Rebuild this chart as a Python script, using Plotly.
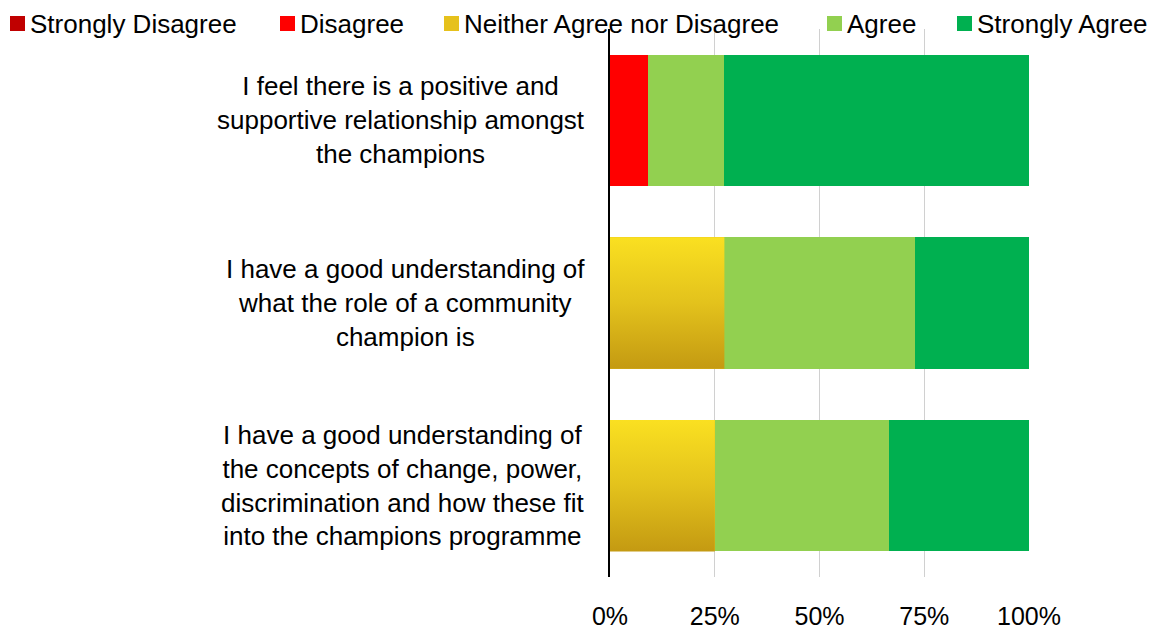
import plotly.graph_objects as go

categories = [
    "I feel there is a positive and<br>supportive relationship amongst<br>the champions",
    "I have a good understanding of<br>what the role of a community<br>champion is",
    "I have a good understanding of<br>the concepts of change, power,<br>discrimination and how these fit<br>into the champions programme",
]
series_names = ["Strongly Disagree", "Disagree", "Neither Agree nor Disagree", "Agree", "Strongly Agree"]
strongly_disagree = [0.0, 0.0, 0.0]
disagree = [9.1, 0.0, 0.0]
neither = [0.0, 27.3, 25.0]
agree = [18.2, 45.4, 41.7]
strongly_agree = [72.7, 27.3, 33.3]
tick_values = [0, 25, 50, 75, 100]
tick_labels = ["0%", "25%", "50%", "75%", "100%"]

colors = ["#C00000", "#FF0000", "#E6C11C", "#92D050", "#00B050"]
series = [strongly_disagree, disagree, neither, agree, strongly_agree]

W, H = 1160, 630
ML, MR, MT, MB = 610, 131, 29, 53
PW, PH = W - ML - MR, H - MT - MB


def px_x(p):
    return (p - ML) / PW


def px_y(p):
    return 1 - (p - MT) / PH


n = len(categories)
pos = [n - 1 - i for i in range(n)]
bar_w = 0.72
FONT = "Liberation Sans, Arial, Helvetica, sans-serif"

fig = go.Figure()
for name, vals, col in zip(series_names, series, colors):
    fig.add_trace(go.Bar(
        y=pos, x=vals, name=name, orientation="h", width=bar_w,
        marker=dict(color=col, line=dict(width=0)),
    ))

# gradient overlay for the "Neither" segments
for i in range(n):
    x0 = strongly_disagree[i] + disagree[i]
    x1 = x0 + neither[i]
    if neither[i] <= 0:
        continue
    yb, yt = pos[i] - bar_w / 2, pos[i] + bar_w / 2
    fig.add_trace(go.Scatter(
        x=[x0, x1, x1, x0, x0], y=[yb, yb, yt, yt, yb],
        mode="lines", line=dict(width=0), fill="toself",
        fillgradient=dict(type="vertical",
                          colorscale=[[0, "#C49A12"], [0.5, "#E3C21C"], [1, "#FAE021"]]),
        showlegend=False, hoverinfo="skip",
    ))

for i, cat in enumerate(categories):
    fig.add_annotation(
        x=px_x(587), xref="paper", y=pos[i], yref="y",
        text=cat, showarrow=False, xanchor="right", yanchor="middle",
        align="center", font=dict(size=26, color="black", family=FONT),
    )

# legend row (top)
legend_square_px = [10, 280, 444, 827, 957]
for name, col, sx in zip(series_names, colors, legend_square_px):
    fig.add_shape(type="rect", xref="paper", yref="paper",
                  x0=px_x(sx), x1=px_x(sx + 15), y0=px_y(31), y1=px_y(16),
                  fillcolor=col, line=dict(width=0), layer="above")
    fig.add_annotation(
        x=px_x(sx + 18), xref="paper", y=px_y(23.5), yref="paper",
        text=name, showarrow=False, xanchor="left", yanchor="middle",
        font=dict(size=26, color="black", family=FONT),
    )

fig.update_layout(
    barmode="stack",
    width=W, height=H,
    margin=dict(l=ML, r=MR, t=MT, b=MB, autoexpand=False),
    plot_bgcolor="white", paper_bgcolor="white",
    font=dict(family=FONT, size=26, color="black"),
    showlegend=False,
    xaxis=dict(range=[0, 100], tickvals=tick_values, ticktext=tick_labels,
               showgrid=True, gridcolor="#D0D0D0", gridwidth=1,
               zeroline=False, showline=False, ticks="",
               ticklabelstandoff=22, tickfont=dict(size=25)),
    yaxis=dict(range=[-0.5, n - 0.5], showticklabels=False, showgrid=False,
               zeroline=False, showline=True, linecolor="black", linewidth=2,
               ticks=""),
)

fig.write_html(
    "out.html",
    config={"displayModeBar": False},
    post_script="document.body.style.margin='0';document.body.style.overflow='hidden';",
)
